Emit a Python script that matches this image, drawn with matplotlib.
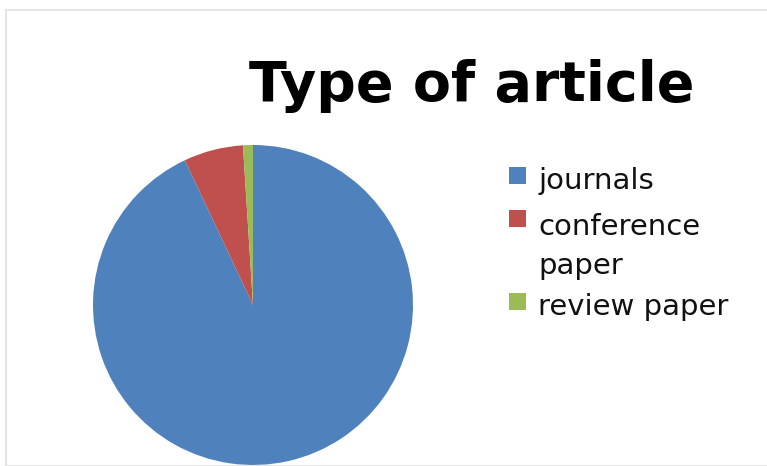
import matplotlib.pyplot as plt
from matplotlib.patches import Rectangle

labels = ['journals', 'conference\npaper', 'review paper']
values = [93, 6, 1]
colors = ['#4F81BD', '#C0504D', '#9BBB59']

W, H = 767, 466
fig = plt.figure(figsize=(W / 100, H / 100), dpi=100)

# faint chart border
fig.patches.append(Rectangle((6 / W, 0), 1, 1 - 10 / H, transform=fig.transFigure,
                             fill=False, edgecolor='#e4e4e4', linewidth=1.5))

ax = fig.add_axes([93 / W, 1 / H, 320 / W, 320 / H])
wedges, _ = ax.pie(values, colors=colors, startangle=90, counterclock=False)
ax.set_xlim(-1, 1)
ax.set_ylim(-1, 1)
ax.set_aspect('equal')

fig.text(472 / W, 1 - 86 / H, 'Type of article', ha='center', va='center',
         fontsize=40, fontweight='bold', color='black')

# legend entries, first-line baseline in pixels from the top
baselines = [189, 232, 315]
for lab, col, yb in zip(labels, colors, baselines):
    fig.patches.append(Rectangle((509 / W, 1 - (yb - 5) / H), 17 / W, 17 / H,
                                 transform=fig.transFigure, facecolor=col,
                                 edgecolor='none'))
    nlines = lab.count('\n')
    fig.text(538 / W, 1 - (yb + 42 * nlines) / H, lab, ha='left', va='baseline',
             fontsize=21, color='#111111', linespacing=1.5)

fig.savefig('out.png', dpi=100)
